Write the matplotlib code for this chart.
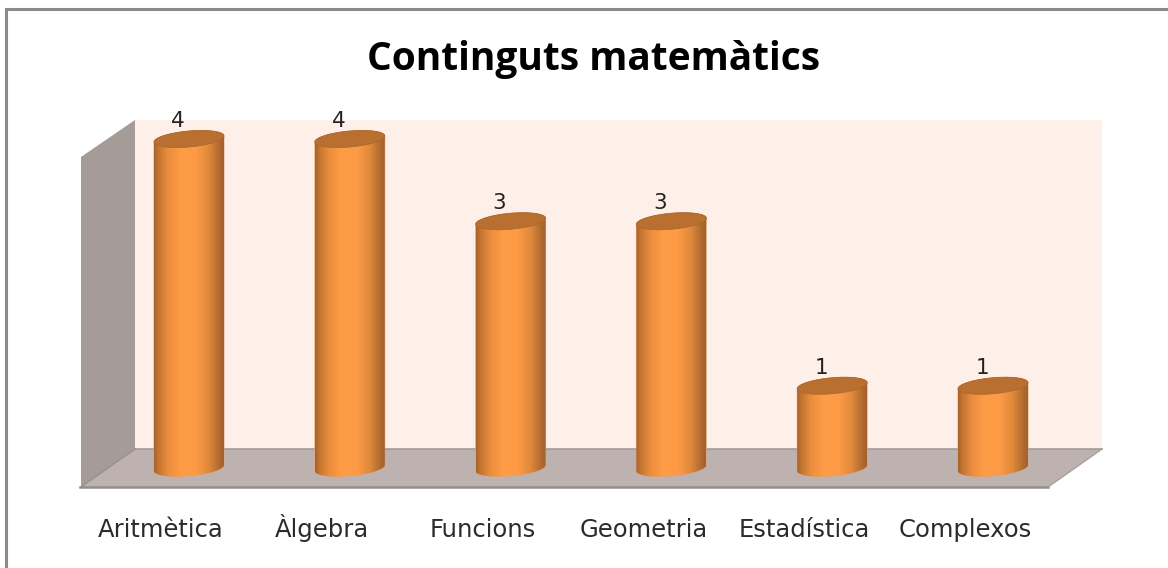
import matplotlib
matplotlib.use('Agg')
import matplotlib.pyplot as plt
import numpy as np
from matplotlib.colors import LinearSegmentedColormap
from matplotlib.patches import Polygon

categories = ['Aritmètica', 'Àlgebra', 'Funcions', 'Geometria', 'Estadística', 'Complexos']
values = [4, 4, 3, 3, 1, 1]
title = 'Continguts matemàtics'

W, H = 1168, 568
x0_px, y0_px = 189, 468      # where category 0 / value 0 sit
x_step, y_step = 160.8, 82.25  # pixels per category / per unit
half_w, ry, tilt = 35, 8, 3  # cylinder shape in pixels

plt.rcParams['font.family'] = ['DejaVu Sans']

fig = plt.figure(figsize=(W / 100, H / 100), dpi=100, facecolor='white')

# fons: marc i parets, en pixels
bg = fig.add_axes([0, 0, 1, 1])
bg.set_xlim(0, W)
bg.set_ylim(H, 0)
bg.axis('off')
bg.plot([6, 6, W], [H, 9, 9], color='#8a8a8a', lw=2.2, solid_joinstyle='miter')
bg.add_patch(Polygon([(135, 120), (1102, 120), (1102, 449), (135, 449)], fc='#feefe8', ec='none'))
bg.add_patch(Polygon([(81, 157), (135, 120), (135, 449), (81, 487)], fc='#a59c97', ec='none'))
bg.add_patch(Polygon([(135, 449), (1102, 449), (1048, 487), (81, 487)], fc='#bdb2af', ec='none'))
bg.plot([135, 1102], [449, 449], color='#a39a97', lw=1.2)
bg.plot([81, 135], [487, 449], color='#98908c', lw=1)
bg.plot([80, 1048], [487, 487], color='#8f8f8f', lw=1.8)
bg.plot([1048, 1102], [487, 449], color='#a8a09c', lw=1)

# barres
ax = fig.add_axes([0, 0, 1, 1])
ax.patch.set_alpha(0)
xlim = ((0 - x0_px) / x_step, (W - x0_px) / x_step)
ylim = ((y0_px - H) / y_step, y0_px / y_step)
ax.axis('off')

shade = LinearSegmentedColormap.from_list('shade', [
    (0.0, '#a9622a'), (0.06, '#c27431'), (0.2, '#ea8d3d'), (0.38, '#ff9c46'),
    (0.6, '#fd9a45'), (0.78, '#e08a3c'), (0.92, '#b56d30'), (1.0, '#a2602b')])
grad = np.linspace(0, 1, 256).reshape(1, -1)

dx, dy, dt = half_w / x_step, ry / y_step, tilt / y_step
t = np.linspace(0, 2 * np.pi, 121)
for i, v in enumerate(values):
    upper = t[t <= np.pi]
    lower = t[t >= np.pi]
    body = np.vstack([
        np.column_stack([i + dx * np.cos(upper), v + dy * np.sin(upper) + dt * np.cos(upper)]),
        np.column_stack([i + dx * np.cos(lower), dy * np.sin(lower) + dt * np.cos(lower)]),
    ])
    poly = Polygon(body, fc='none', ec='#d9a77e', lw=0.6, zorder=2)
    ax.add_patch(poly)
    im = ax.imshow(grad, cmap=shade, aspect='auto', extent=(i - dx, i + dx, -0.2, v + 0.2), zorder=2)
    im.set_clip_path(poly)
    ax.add_patch(Polygon(np.column_stack([i + dx * np.cos(t), v + dy * np.sin(t) + dt * np.cos(t)]),
                         fc='#b96f30', ec='#a9652c', lw=0.5, zorder=3))
    ax.annotate(str(v), (i, v), xytext=(-11, 12), textcoords='offset pixels',
                ha='center', va='baseline', fontsize=15.5, color='#222222')
    ax.annotate(categories[i], (i, 0), xytext=(-28, -69), textcoords='offset pixels',
                ha='center', va='baseline', fontsize=17.5, color='#2b2b2b')

ax.set_xlim(xlim)
ax.set_ylim(ylim)

fig.text(593.5 / W, 1 - 70 / H, title, ha='center', va='baseline', family=['Open Sans', 'DejaVu Sans'],
         fontsize=28, fontweight='bold', color='black')

fig.savefig('out.png', dpi=100)
